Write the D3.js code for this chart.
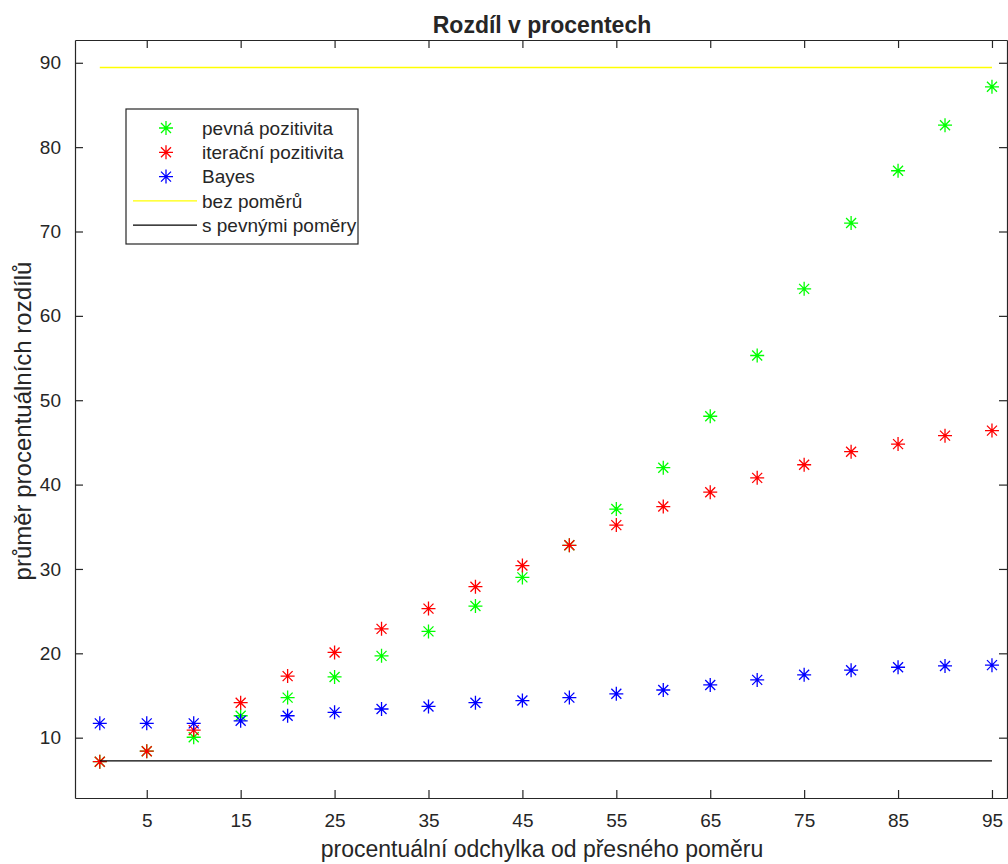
<!DOCTYPE html>
<html><head><meta charset="utf-8">
<script src="https://cdn.jsdelivr.net/npm/d3@7"></script>
<style>body{margin:0;background:#fff;} text{font-family:"Liberation Sans",Arial,sans-serif;fill:#262626;}</style>
</head><body>
<svg id="c" width="1008" height="864"></svg>
<script>
const xValues = [0,5,10,15,20,25,30,35,40,45,50,55,60,65,70,75,80,85,90,95];
const pevna =   [7.15,8.4,10.05,12.6,14.75,17.2,19.7,22.6,25.6,29.0,32.8,37.1,42.0,48.1,55.3,63.2,71.0,77.2,82.6,87.15];
const iteracni =[7.15,8.4,10.9,14.15,17.3,20.1,22.9,25.3,27.9,30.4,32.8,35.2,37.4,39.1,40.8,42.35,43.9,44.8,45.8,46.4];
const bayes =   [11.7,11.7,11.7,12.0,12.6,13.0,13.4,13.7,14.15,14.4,14.75,15.2,15.65,16.25,16.85,17.45,18.0,18.35,18.5,18.6];
const bezPomeru = 89.44;
const sPevnymi = 7.24;
const xTicks = [5,15,25,35,45,55,65,75,85,95];
const yTicks = [10,20,30,40,50,60,70,80,90];
const seriesNames = ["pevná pozitivita","iterační pozitivita","Bayes","bez poměrů","s pevnými poměry"];
const colors = ["#00ff00","#ff0000","#0000ff","#ffff00","#000000"];
const title = "Rozdíl v procentech";
const xLabel = "procentuální odchylka od přesného poměru";
const yLabel = "průměr procentuálních rozdílů";

const L=75, R=1007, T=40, B=798;
const svg = d3.select("#c");
const x = d3.scaleLinear().domain([-2.64,96.6]).range([L,R]);
const y = d3.scaleLinear().domain([2.85,92.7]).range([B,T]);
const axisColor = "#262626";
const tickFont = 19;

// axes
const gx = svg.append("g").attr("transform",`translate(0,${B})`)
  .call(d3.axisBottom(x).tickValues(xTicks).tickSizeInner(-8).tickSizeOuter(0).tickPadding(16).tickFormat(d3.format("d")));
const gxt = svg.append("g").attr("transform",`translate(0,${T})`)
  .call(d3.axisTop(x).tickValues(xTicks).tickSizeInner(-8).tickSizeOuter(0).tickFormat(""));
const gy = svg.append("g").attr("transform",`translate(${L},0)`)
  .call(d3.axisLeft(y).tickValues(yTicks).tickSizeInner(-8).tickSizeOuter(0).tickPadding(14).tickFormat(d3.format("d")));
const gyr = svg.append("g").attr("transform",`translate(${R},0)`)
  .call(d3.axisRight(y).tickValues(yTicks).tickSizeInner(-8).tickSizeOuter(0).tickFormat(""));
[gx,gxt,gy,gyr].forEach(g=>{
  g.select(".domain").attr("stroke",axisColor).attr("stroke-width",1.2);
  g.selectAll(".tick line").attr("stroke",axisColor).attr("stroke-width",1.2);
  g.selectAll(".tick text").attr("font-size",tickFont).attr("font-family","Liberation Sans, Arial, sans-serif").attr("fill",axisColor);
});

const star = "M-7,0H7M0,-7V7M-5,-5L5,5M-5,5L5,-5";
function drawSeries(vals,color){
  svg.append("g").selectAll("path").data(vals).join("path")
    .attr("d",star).attr("transform",(d,i)=>`translate(${x(xValues[i])},${y(d)})`)
    .attr("stroke",color).attr("stroke-width",1.3).attr("fill","none");
}
drawSeries(pevna,colors[0]);
drawSeries(iteracni,colors[1]);
drawSeries(bayes,colors[2]);
const line = d3.line().x(d=>x(d[0])).y(d=>y(d[1]));
svg.append("path").attr("d",line(xValues.map(v=>[v,bezPomeru]))).attr("stroke",colors[3]).attr("stroke-width",1.3).attr("fill","none");
svg.append("path").attr("d",line(xValues.map(v=>[v,sPevnymi]))).attr("stroke",colors[4]).attr("stroke-width",1.3).attr("fill","none");

// labels
svg.append("text").attr("x",542).attr("y",33).attr("text-anchor","middle").attr("font-size",23).attr("font-weight","bold").attr("fill","#000").text(title);
svg.append("text").attr("x",542).attr("y",857).attr("text-anchor","middle").attr("font-size",23).text(xLabel);
svg.append("text").attr("transform",`translate(31,${(T+B)/2+2}) rotate(-90)`).attr("text-anchor","middle").attr("font-size",24).text(yLabel);

// legend
const lg = svg.append("g");
lg.append("rect").attr("x",126).attr("y",109).attr("width",232).attr("height",135).attr("fill","#fff").attr("stroke",axisColor).attr("stroke-width",1.2);
seriesNames.forEach((n,i)=>{
  const cy = 128 + i*24.3;
  if(i<3){
    lg.append("path").attr("d",star).attr("transform",`translate(166,${cy})`).attr("stroke",colors[i]).attr("stroke-width",1.3).attr("fill","none");
  } else {
    lg.append("line").attr("x1",133).attr("x2",197).attr("y1",cy).attr("y2",cy).attr("stroke",colors[i]).attr("stroke-width",1.3);
  }
  lg.append("text").attr("x",202).attr("y",cy).attr("dy","0.35em").attr("font-size",19).text(n);
});
</script></body></html>
